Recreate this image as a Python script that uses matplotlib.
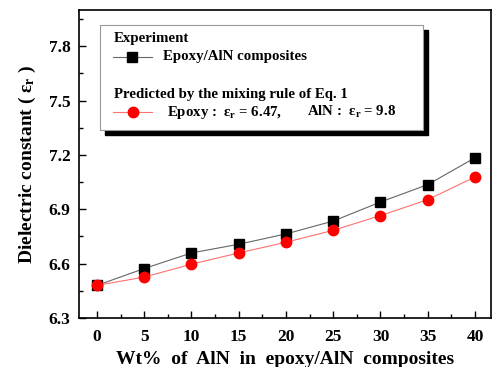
import numpy as np
import matplotlib
matplotlib.use("Agg")
import matplotlib.pyplot as plt
from matplotlib.patches import Rectangle
from matplotlib.ticker import MultipleLocator

plt.rcParams['font.family'] = ['Liberation Serif', 'DejaVu Serif']
plt.rcParams['font.weight'] = 'bold'
plt.rcParams['mathtext.fontset'] = 'custom'
plt.rcParams['mathtext.rm'] = 'Liberation Serif:bold'
plt.rcParams['mathtext.it'] = 'Liberation Serif:bold'

# data
wt_pct = [0, 5, 10, 15, 20, 25, 30, 35, 40]
experiment = [6.48, 6.573, 6.659, 6.707, 6.764, 6.835, 6.94, 7.036, 7.184]
predicted = [6.48, 6.526, 6.597, 6.659, 6.718, 6.784, 6.865, 6.953, 7.078]

fig = plt.figure(figsize=(4.94, 3.67), dpi=100)
ax = fig.add_axes([0.160, 0.1335, 0.834, 0.8395])

ax.plot(wt_pct, experiment, '-', color='#666666', lw=0.8,
        marker='s', ms=6.5, mfc='black', mec='black', zorder=3)
ax.plot(wt_pct, predicted, '-', color='#ff7070', lw=0.8,
        marker='o', ms=7.5, mfc='red', mec='red', zorder=4)

ax.set_xlim(-1.9, 41.7)
ax.set_ylim(6.3, 8.0)
ax.xaxis.set_major_locator(MultipleLocator(5))
ax.xaxis.set_minor_locator(MultipleLocator(2.5))
ax.yaxis.set_minor_locator(MultipleLocator(0.15))
ax.set_yticks([6.3, 6.6, 6.9, 7.2, 7.5, 7.8])
ax.tick_params(which='both', direction='in', top=False, right=False)
ax.tick_params(which='major', length=5, width=1, labelsize=12.5)
ax.tick_params(axis='x', which='major', pad=8)
ax.tick_params(axis='y', which='major', pad=6)
ax.tick_params(which='minor', length=3, width=1)
for s in ax.spines.values():
    s.set_linewidth(1.2)

ax.set_xlabel('Wt%  of  AlN  in  epoxy/AlN  composites', fontsize=14,
              fontweight='bold', labelpad=4)
ax.set_ylabel(r'Dielectric constant ( $\varepsilon_{\rm r}$ )', fontsize=14,
              fontweight='bold', labelpad=8)

# legend box with shadow
bx, by, bw, bh = 0.051, 0.610, 0.784, 0.341
ax.add_patch(Rectangle((bx + 0.012, by - 0.016), bw, bh, transform=ax.transAxes,
                       facecolor='black', edgecolor='black', zorder=5))
ax.add_patch(Rectangle((bx, by), bw, bh, transform=ax.transAxes,
                       facecolor='white', edgecolor='#999999', lw=0.8, zorder=6))

ax.text(0.085, 0.906, 'Experiment', transform=ax.transAxes, fontsize=10.7,
        va='center', ha='left', zorder=7)
ax.plot([0.082, 0.177], [0.848, 0.848], transform=ax.transAxes, color='#666666',
        lw=0.8, zorder=7, clip_on=False)
ax.plot([0.128], [0.848], transform=ax.transAxes, marker='s', ms=6.5,
        color='black', zorder=8, clip_on=False)
ax.text(0.204, 0.848, 'Epoxy/AlN composites', transform=ax.transAxes,
        fontsize=10.7, va='center', ha='left', zorder=7)

ax.text(0.085, 0.724, 'Predicted by the mixing rule of Eq. 1',
        transform=ax.transAxes, fontsize=10.7, va='center', ha='left', zorder=7)
ax.plot([0.082, 0.177], [0.668, 0.668], transform=ax.transAxes, color='#ff7070',
        lw=0.8, zorder=7, clip_on=False)
ax.plot([0.131], [0.668], transform=ax.transAxes, marker='o', ms=7.5,
        color='red', zorder=8, clip_on=False)
ax.text(0.214, 0.668, r'Epoxy :  $\varepsilon_{\rm r}$ = 6.47,', transform=ax.transAxes,
        fontsize=10.7, va='center', ha='left', zorder=7)
ax.text(0.553, 0.668, r'AlN :  $\varepsilon_{\rm r}$ = 9.8', transform=ax.transAxes,
        fontsize=10.7, va='center', ha='left', zorder=7)

fig.savefig('out.png', dpi=100)
